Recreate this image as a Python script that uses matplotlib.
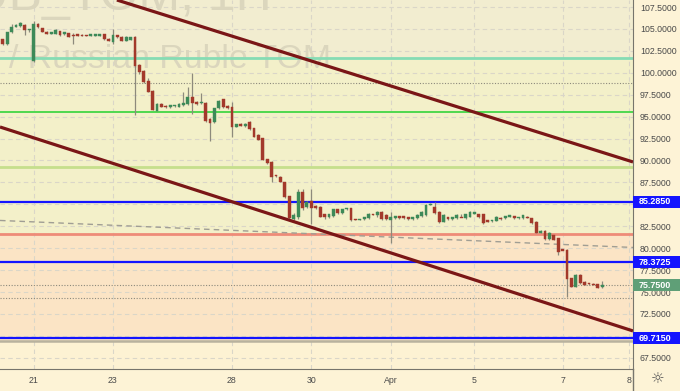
import matplotlib
matplotlib.use('Agg')
import matplotlib.pyplot as plt
import numpy as np
from matplotlib.patches import Rectangle
from matplotlib.transforms import blended_transform_factory
from matplotlib.lines import Line2D

# hourly candles, USD/RUB TOM
opens = [103.8, 103.25, 104.6, 105.25, 105.3, 105.5, 104.85, 101.3, 105.55, 105.05,
         104.7, 104.45, 104.45, 104.75, 104.4, 104.5, 104.3, 104.4, 104.35, 104.3,
         104.25, 104.2, 104.25, 104.4, 103.9, 103.55, 104.3, 104.1, 103.65, 103.75,
         104.1, 100.9, 100.24, 99.1, 97.96, 95.68, 96.4, 96.25, 96.06, 96.2,
         96.14, 96.3, 96.4, 97.28, 96.7, 96.5, 96.6, 94.7, 94.39, 95.94,
         96.97, 96.25, 96.14, 93.86, 94.15, 93.9, 94.42, 93.66, 92.9, 92.53,
         90.13, 89.86, 88.3, 88.15, 87.58, 85.95, 83.3, 83.6, 86.37, 84.73,
         85.4, 84.85, 84.73, 83.9, 83.52, 83.67, 84.43, 84.0, 84.45, 84.55,
         83.3, 83.25, 83.3, 83.4, 83.85, 83.75, 84.16, 83.78, 83.2, 83.4,
         83.65, 83.65, 83.5, 83.3, 83.4, 83.67, 83.78, 84.95, 84.66, 84.16,
         83.0, 83.5, 83.3, 83.4, 83.6, 83.4, 83.6, 83.95, 83.9, 83.9,
         83.2, 83.1, 83.1, 83.4, 83.4, 83.6, 83.67, 83.4, 83.4, 83.6,
         83.4, 83.02, 81.77, 82.0, 81.0, 81.5, 81.12, 79.85, 79.79, 76.56,
         75.6, 76.94, 76.18, 76.0, 75.95, 75.9, 75.6]
highs = [103.9, 104.7, 105.55, 105.6, 105.8, 105.6, 105.0, 105.9, 105.7, 105.1,
         104.8, 104.7, 104.95, 104.8, 104.65, 104.55, 104.5, 104.45, 104.4, 104.35,
         104.35, 104.45, 104.45, 104.45, 103.95, 105.0, 104.35, 104.15, 104.15, 104.1,
         104.2, 101.0, 100.3, 99.4, 98.0, 96.6, 96.5, 96.3, 96.35, 96.3,
         96.5, 97.77, 98.34, 100.0, 96.8, 97.65, 96.7, 94.8, 96.0, 96.9,
         97.0, 96.3, 96.67, 94.2, 94.25, 94.25, 94.5, 93.7, 93.0, 92.6,
         90.2, 89.9, 88.35, 88.2, 87.6, 86.0, 84.05, 86.8, 86.7, 85.4,
         86.7, 84.9, 84.8, 83.95, 83.95, 84.5, 84.5, 84.5, 84.6, 84.6,
         83.35, 83.35, 83.55, 84.0, 83.95, 84.2, 84.25, 83.85, 84.16, 83.7,
         83.7, 83.7, 83.55, 83.55, 83.85, 84.2, 85.0, 85.1, 85.28, 84.2,
         83.85, 83.55, 83.55, 83.85, 83.9, 83.95, 84.2, 84.15, 83.95, 83.95,
         83.25, 83.2, 83.65, 83.5, 83.7, 83.8, 83.7, 83.55, 83.8, 83.7,
         83.45, 83.05, 82.05, 82.05, 81.8, 81.55, 81.2, 79.9, 79.85, 76.6,
         77.0, 77.0, 76.25, 76.05, 76.0, 75.95, 76.3]
lows = [103.2, 103.2, 104.5, 105.2, 105.2, 104.3, 104.7, 101.2, 105.1, 104.6,
        104.4, 104.4, 104.4, 104.25, 104.35, 104.05, 103.25, 104.15, 104.15, 104.2,
        104.2, 104.15, 104.2, 103.75, 103.6, 103.25, 104.0, 103.6, 103.6, 103.7,
        95.2, 99.9, 98.8, 97.8, 95.7, 95.6, 96.1, 96.0, 96.0, 96.1,
        96.1, 96.25, 96.35, 95.3, 96.35, 96.45, 94.4, 92.2, 94.3, 95.9,
        96.0, 95.9, 92.7, 93.8, 93.9, 93.85, 93.5, 92.65, 92.3, 90.0,
        89.6, 87.58, 88.15, 87.5, 85.7, 83.3, 83.2, 83.3, 84.4, 84.6,
        82.75, 84.5, 83.55, 83.3, 83.45, 83.6, 83.95, 83.95, 84.4, 83.15,
        83.2, 83.2, 83.25, 83.35, 83.75, 83.6, 83.25, 83.25, 80.55, 83.35,
        83.35, 83.35, 83.25, 83.25, 83.35, 83.6, 83.7, 84.9, 83.9, 82.9,
        82.95, 83.25, 83.25, 83.35, 83.5, 83.35, 83.55, 83.85, 83.45, 82.7,
        82.95, 83.0, 83.05, 83.25, 83.35, 83.5, 83.3, 83.35, 83.35, 83.4,
        82.8, 81.7, 81.7, 80.95, 80.95, 80.9, 79.2, 79.75, 74.4, 75.55,
        75.55, 75.95, 75.75, 75.85, 75.8, 75.45, 75.5]
closes = [103.25, 104.6, 105.25, 105.45, 105.7, 104.9, 104.9, 105.6, 105.2, 104.7,
          104.45, 104.65, 104.9, 104.3, 104.6, 104.1, 104.25, 104.2, 104.2, 104.25,
          104.3, 104.4, 104.4, 103.8, 103.65, 104.35, 104.05, 103.65, 104.1, 104.05,
          100.8, 100.13, 98.99, 97.85, 95.76, 96.44, 96.14, 96.06, 96.32, 96.25,
          96.44, 96.6, 97.28, 96.6, 96.4, 96.6, 94.5, 94.3, 95.94, 96.82,
          96.13, 95.95, 93.86, 94.16, 93.95, 94.2, 93.55, 92.7, 92.33, 90.05,
          89.68, 88.15, 88.2, 87.58, 85.8, 83.4, 83.8, 86.37, 84.55, 85.3,
          84.55, 84.55, 83.6, 83.52, 83.9, 84.43, 84.0, 84.43, 84.5, 83.2,
          83.25, 83.3, 83.5, 83.95, 83.8, 84.15, 83.29, 83.29, 83.5, 83.67,
          83.4, 83.4, 83.3, 83.5, 83.78, 84.16, 84.9, 85.0, 83.97, 83.0,
          83.78, 83.3, 83.5, 83.78, 83.55, 83.9, 84.16, 84.0, 83.5, 82.83,
          83.0, 83.15, 83.6, 83.3, 83.67, 83.75, 83.4, 83.5, 83.78, 83.5,
          82.83, 81.77, 82.0, 81.0, 81.77, 80.93, 79.6, 79.8, 76.45, 75.6,
          76.94, 75.99, 75.8, 75.9, 75.85, 75.5, 75.75]

tick_idx = [7, 25, 52, 70, 88, 107, 127, 142]
tick_labels = ['21', '23', '28', '30', 'Apr', '5', '7', '8']
y_ticks = [67.5, 70.0, 72.5, 75.0, 77.5, 80.0, 82.5, 85.0, 87.5, 90.0,
           92.5, 95.0, 97.5, 100.0, 102.5, 105.0, 107.5]

# drawn levels
blue_levels = [85.285, 78.3725, 69.715]
last_price = 75.75
mint_level = 101.74
green_level = 95.49
lime_level = 89.29
salmon_level = 81.62
dotted_levels = [98.83, 75.75, 74.3]
grey_level = 69.42
# trend lines (bar index, price)
upper_x, upper_y = [25.9, 142.96], [108.3, 89.83]
lower_x, lower_y = [-0.61, 142.96], [93.82, 70.56]
dash_x, dash_y = [-0.61, 142.96], [83.16, 80.08]

fig = plt.figure(figsize=(6.8, 3.91), dpi=100)
fig.patch.set_facecolor('#fdf3d6')
ax = fig.add_axes([0, 22 / 391, 633 / 680, 369 / 391])
ax.set_xlim(-0.61, 142.96)
ax.set_ylim(66.22, 108.3)

# background zones
ax.axhspan(mint_level, 120, fc='#f2edd0', zorder=0)
ax.axhspan(salmon_level, mint_level, fc='#f3f0c9', zorder=0)
ax.axhspan(grey_level, salmon_level, fc='#fbe4c5', zorder=0)
ax.axhspan(50, grey_level, fc='#fdf2d3', zorder=0)

# grid
for t in tick_idx:
    ax.axvline(t, color='#dad6c8', lw=0.8, ls=(0, (4, 3)), zorder=0.3)
for v in y_ticks:
    ax.axhline(v, color='#dad6c8', lw=0.8, ls=(0, (4, 3)), zorder=0.3)

# watermark
wm = '#dbd6bd'
ax.text(272 / 680, 1 - 10 / 391, 'USDRUB_TOM, 1H', transform=fig.transFigure,
        ha='right', va='baseline', fontsize=36, color=wm, family='Liberation Sans', zorder=0.4)
ax.text(331 / 680, 1 - 60 / 391, 'U.S. Dollar / Russian Ruble TOM', transform=fig.transFigure,
        ha='right', va='center', fontsize=24.4, color=wm, family='Liberation Sans', zorder=0.4)

# horizontal levels
ax.axhline(mint_level, color='#86dcb4', lw=2, zorder=1)
ax.axhline(green_level, color='#4fd84f', lw=1.4, zorder=1)
ax.axhline(lime_level, color='#c6df8c', lw=2, zorder=1)
ax.axhline(salmon_level, color='#ee8b78', lw=2, zorder=1)
ax.axhline(grey_level, color='#b8b29e', lw=1.8, zorder=1)
for v in dotted_levels:
    ax.axhline(v, color='#8c897c', lw=0.8, ls=(0, (1, 1.5)), zorder=1)
for v in blue_levels:
    ax.axhline(v, color='#1414ff', lw=1.6, zorder=1.2)
ax.plot(dash_x, dash_y, color='#a09e94', lw=1, ls=(0, (4, 3)), zorder=1)

# candles
o = np.array(opens)
h = np.array(highs)
l = np.array(lows)
c = np.array(closes)
idx = np.arange(len(o))
up = c >= o
body_col = np.where(up, '#3d8a58', '#a3392b')
ax.vlines(idx, l, h, color='#8d8a7c', lw=0.9, zorder=2)
height = np.where(np.abs(c - o) < 0.12, 0.12 * np.where(up, 1, -1), c - o)
ax.bar(idx, height, bottom=o, width=0.64, color=body_col, edgecolor=body_col,
       lw=0.3, zorder=3)

# trend channel
ax.plot(upper_x, upper_y, color='#7a1616', lw=2.3, zorder=4, solid_capstyle='butt')
ax.plot(lower_x, lower_y, color='#7a1616', lw=2.3, zorder=4, solid_capstyle='butt')

# axes styling
for s in ['top', 'left']:
    ax.spines[s].set_visible(False)
ax.spines['right'].set_color('#77756c')
ax.spines['bottom'].set_color('#77756c')
ax.yaxis.tick_right()
ax.set_yticks(y_ticks)
ax.set_yticklabels(['%.4f' % v for v in y_ticks])
ax.set_xticks(tick_idx)
ax.set_xticklabels(tick_labels)
ax.tick_params(axis='y', length=0, pad=5, labelsize=6.3, labelcolor='#4a4a4a')
ax.tick_params(axis='x', length=0, pad=5, labelsize=6.3, labelcolor='#4a4a4a')
for lab in ax.get_yticklabels() + ax.get_xticklabels():
    lab.set_family('Liberation Sans')

fig.add_artist(Line2D([633 / 680, 633 / 680], [0, 22 / 391], color='#77756c', lw=1))

# price badges
tr = blended_transform_factory(ax.transAxes, ax.transData)
bh = 12 / 8.77
for v, col in [(85.285, '#1414ff'), (78.3725, '#1414ff'), (69.715, '#1414ff'), (last_price, '#5f9f77')]:
    ax.add_patch(Rectangle((1.0, v - bh / 2), 0.08, bh, transform=tr, fc=col, ec='none',
                           clip_on=False, zorder=10))
    ax.text(639 / 633, v, '%.4f' % v, transform=tr, ha='left', va='center', color='white',
            fontsize=6.5, family='Liberation Sans', fontweight='bold', clip_on=False, zorder=11)

fig.text(658 / 680, 12 / 391, '☼', ha='center', va='center', fontsize=11, color='#555555')

fig.savefig('out.png', dpi=100, facecolor=fig.get_facecolor())
